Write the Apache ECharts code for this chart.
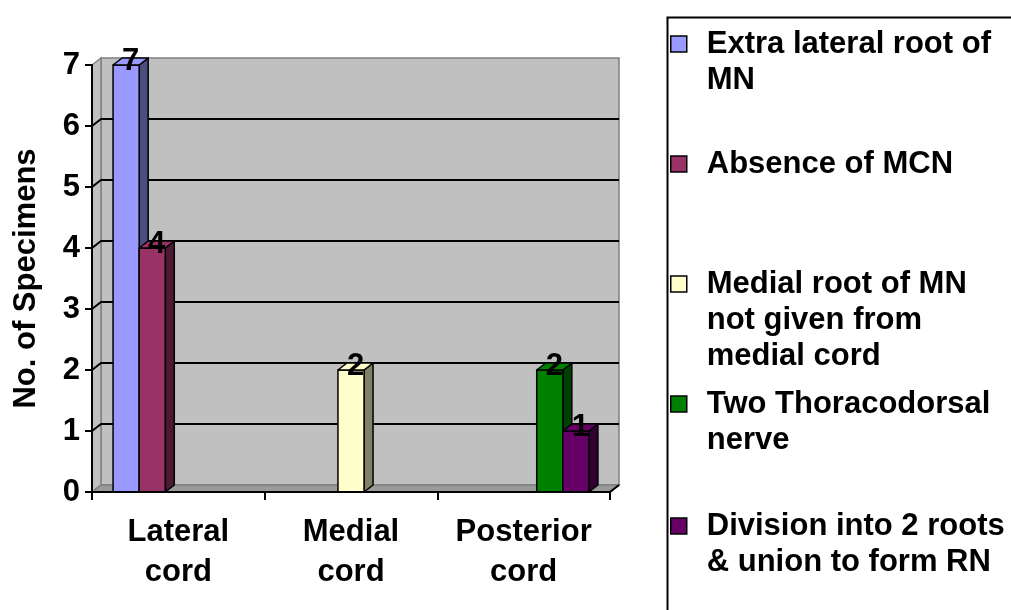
<!DOCTYPE html>
<html>
<head>
<meta charset="utf-8">
<script src="https://cdn.jsdelivr.net/npm/echarts@6/dist/echarts.min.js"></script>
<style>
  html, body { margin: 0; padding: 0; background: #fff; }
  #chart { width: 1011px; height: 610px; }
</style>
</head>
<body>
<div id="chart"></div>
<script>
// Categories along the x axis
const categories = ['Lateral\ncord', 'Medial\ncord', 'Posterior\ncord'];

// Series names and the lines their legend entries wrap onto
const seriesNames = [
  'Extra lateral root of MN',
  'Absence of MCN',
  'Medial root of MN not given from medial cord',
  'Two Thoracodorsal nerve',
  'Division into 2 roots & union to form RN'
];
const legendLines = [
  ['Extra lateral root of', 'MN'],
  ['Absence of MCN'],
  ['Medial root of MN', 'not given from', 'medial cord'],
  ['Two Thoracodorsal', 'nerve'],
  ['Division into 2 roots', '& union to form RN']
];

// Number of specimens per category (null = no bar)
const extraLateralRoot = [7, null, null];
const absenceOfMCN = [4, null, null];
const medialRootNotFromMedialCord = [null, 2, null];
const twoThoracodorsal = [null, null, 2];
const divisionIntoTwoRoots = [null, null, 1];
const seriesValues = [extraLateralRoot, absenceOfMCN, medialRootNotFromMedialCord, twoThoracodorsal, divisionIntoTwoRoots];

// Value axis ticks
const yTicks = [0, 1, 2, 3, 4, 5, 6, 7];

// Styling
const frontColors = ['#9999ff', '#993366', '#ffffcc', '#008000', '#660066'];
const sideColors = ['#4d4d80', '#4d1a33', '#808066', '#004000', '#330033'];
const FONT = '"Liberation Sans", Arial, sans-serif';
const DX = 9, DY = -7;        // depth offset of the 3-D walls and columns
const CLUSTER = 0.756;        // share of a category band taken by the column cluster
const legendRowY = [44, 164, 284, 404, 526];
const LINE_H = 36;

const chart = echarts.init(document.getElementById('chart'), null, { renderer: 'canvas' });

// Back wall, side wall, floor and wall gridlines
function renderWalls(params, api) {
  const cs = params.coordSys;
  const xl = cs.x, xr = cs.x + cs.width;
  const yb = api.coord([0, yTicks[0]])[1];
  const yt = api.coord([0, yTicks[yTicks.length - 1]])[1];
  const children = [
    { type: 'rect', shape: { x: xl + DX, y: yt + DY, width: xr - xl, height: yb - yt },
      style: { fill: '#c0c0c0', stroke: '#808080', lineWidth: 1.5 } },
    { type: 'polygon', shape: { points: [[xl, yb], [xl, yt], [xl + DX, yt + DY], [xl + DX, yb + DY]] },
      style: { fill: '#c0c0c0', stroke: '#808080', lineWidth: 1.5 } },
    { type: 'polygon', shape: { points: [[xl, yb], [xr, yb], [xr + DX, yb + DY], [xl + DX, yb + DY]] },
      style: { fill: '#9a9a9a', stroke: '#808080', lineWidth: 1.5 } }
  ];
  yTicks.forEach(function (t) {
    if (t === yTicks[0] || t === yTicks[yTicks.length - 1]) return;
    const y = api.coord([0, t])[1];
    children.push({ type: 'polyline', shape: { points: [[xl, y], [xl + DX, y + DY], [xr + DX, y + DY]] },
      style: { fill: null, stroke: '#000', lineWidth: 2 } });
  });
  children.push({ type: 'line', shape: { x1: xr, y1: yb, x2: xr + DX, y2: yb + DY },
    style: { stroke: '#000', lineWidth: 2 } });
  return { type: 'group', children: children };
}

// 3-D column with its value written on the top face
function makeColumnRenderer(k) {
  return function (params, api) {
    const cat = api.value(0);
    const v = api.value(1);
    const top = api.coord([cat, v]);
    const base = api.coord([cat, 0]);
    const band = api.size([1, 0])[0];
    const n = seriesNames.length;
    const slot = band * CLUSTER / n;
    const x0 = top[0] - n * slot / 2 + k * slot;
    const x1 = x0 + slot;
    const yT = top[1], yB = base[1];
    const edge = { stroke: '#000', lineWidth: 1.5, lineJoin: 'round' };
    return {
      type: 'group',
      children: [
        { type: 'polygon', shape: { points: [[x1, yT], [x1 + DX, yT + DY], [x1 + DX, yB + DY], [x1, yB]] },
          style: Object.assign({ fill: sideColors[k] }, edge) },
        { type: 'rect', shape: { x: x0, y: yT, width: slot, height: yB - yT },
          style: Object.assign({ fill: frontColors[k] }, edge) },
        { type: 'polygon', shape: { points: [[x0, yT], [x0 + DX, yT + DY], [x1 + DX, yT + DY], [x1, yT]] },
          style: Object.assign({ fill: frontColors[k] }, edge) },
        { type: 'text', x: (x0 + x1 + DX) / 2, y: yT + DY / 2,
          style: { text: String(v), font: 'bold 31px ' + FONT, fill: '#000', align: 'center', verticalAlign: 'middle' } }
      ]
    };
  };
}

const series = [{
  type: 'custom',
  name: '__walls',
  z: 1,
  silent: true,
  renderItem: renderWalls,
  data: [[0, 0]],
  encode: { x: 0, y: 1 }
}];
seriesValues.forEach(function (vals, k) {
  series.push({
    type: 'custom',
    name: seriesNames[k],
    z: 2,
    itemStyle: { color: frontColors[k] },
    renderItem: makeColumnRenderer(k),
    data: vals.map(function (v, i) { return v == null ? null : [i, v]; }).filter(Boolean),
    encode: { x: 0, y: 1 }
  });
});

// One legend block per series so each marker sits on the first line of its entry
const legends = seriesNames.map(function (name, k) {
  const lines = legendLines[k];
  const nl = lines.length;
  const pad = new Array(nl - 1).fill('');
  return {
    orient: 'vertical',
    left: 670,
    top: legendRowY[k] - (2 * nl - 1) * LINE_H / 2,
    padding: 0,
    itemWidth: 16,
    itemHeight: 16,
    icon: 'rect',
    itemStyle: { borderColor: '#000', borderWidth: 1.5 },
    selectedMode: false,
    data: [name],
    formatter: function () { return pad.concat(lines).join('\n'); },
    textStyle: { fontFamily: FONT, fontWeight: 'bold', fontSize: 31, color: '#000',
      lineHeight: LINE_H, padding: [0, 0, 0, 15] }
  };
});

chart.setOption({
  animation: false,
  backgroundColor: '#fff',
  grid: { left: 92, right: 401, top: 65, bottom: 118, containLabel: false, outerBoundsMode: 'none' },
  xAxis: {
    type: 'category',
    data: categories,
    z: 5,
    boundaryGap: true,
    axisLine: { lineStyle: { color: '#000', width: 2 } },
    axisTick: { show: true, length: 8, lineStyle: { color: '#000', width: 2 } },
    axisLabel: { interval: 0, hideOverlap: false, color: '#000', fontFamily: FONT, fontWeight: 'bold',
      fontSize: 31, lineHeight: 40, margin: 20 },
    splitLine: { show: false }
  },
  yAxis: {
    type: 'value',
    min: yTicks[0],
    max: yTicks[yTicks.length - 1],
    interval: 1,
    z: 5,
    name: 'No. of Specimens',
    nameLocation: 'middle',
    nameRotate: 90,
    nameGap: 50,
    nameTextStyle: { color: '#000', fontFamily: FONT, fontWeight: 'bold', fontSize: 31 },
    axisLine: { show: true, lineStyle: { color: '#000', width: 2 } },
    axisTick: { show: true, length: 7, lineStyle: { color: '#000', width: 2 } },
    axisLabel: { color: '#000', fontFamily: FONT, fontWeight: 'bold', fontSize: 31, margin: 12 },
    splitLine: { show: false }
  },
  legend: legends,
  graphic: [{
    type: 'rect',
    left: 665, top: 15,
    shape: { width: 400, height: 700 },
    style: { fill: null, stroke: '#000', lineWidth: 2 },
    silent: true
  }],
  series: series
});
</script>
</body>
</html>
